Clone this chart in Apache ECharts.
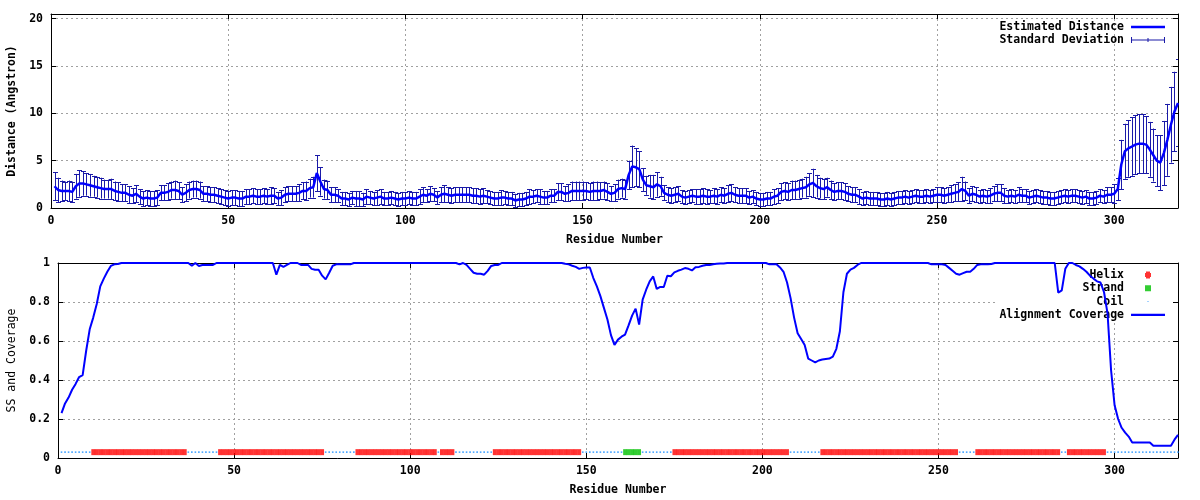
<!DOCTYPE html>
<html><head><meta charset="utf-8">
<script src="https://cdn.jsdelivr.net/npm/echarts@6/dist/echarts.min.js"></script>
<style>html,body{margin:0;padding:0;background:#fff}#c{width:1200px;height:500px}</style>
</head><body><div id="c"></div>
<script>
// ---------- DATA (residues 1..318) ----------
const distance = [
2.3,1.9,1.8,1.8,1.8,1.7,2.3,2.6,2.6,2.5,
2.4,2.3,2.2,2.1,2.0,2.0,2.0,1.8,1.7,1.6,
1.6,1.4,1.3,1.5,1.2,1.0,1.1,1.0,1.0,1.1,
1.6,1.6,1.7,1.9,1.9,1.8,1.4,1.6,1.9,2.0,
2.0,1.9,1.5,1.5,1.4,1.4,1.3,1.2,1.1,1.0,
1.1,1.1,1.0,1.0,1.2,1.2,1.3,1.2,1.2,1.3,
1.2,1.3,1.3,1.0,1.1,1.4,1.5,1.5,1.5,1.6,
1.8,1.8,2.1,2.2,3.7,2.8,2.0,1.9,1.4,1.4,
1.3,1.0,1.0,0.9,1.1,1.0,1.0,0.9,1.2,1.1,
1.0,1.1,1.2,1.0,1.0,1.1,1.0,0.9,1.0,1.0,
1.1,1.0,1.0,1.2,1.4,1.3,1.5,1.4,1.1,1.4,
1.5,1.4,1.3,1.4,1.4,1.4,1.4,1.4,1.3,1.3,
1.2,1.3,1.2,1.1,1.0,1.0,1.1,1.1,1.0,1.0,
0.8,0.9,0.9,1.0,1.2,1.2,1.3,1.2,1.1,1.1,
1.3,1.3,1.7,1.7,1.5,1.6,1.8,1.8,1.8,1.8,
1.8,1.7,1.8,1.8,1.8,1.9,1.7,1.5,1.6,2.0,
2.1,2.0,3.5,4.4,4.3,4.1,3.0,2.4,2.3,2.2,
2.5,2.3,1.6,1.4,1.3,1.4,1.5,1.2,1.1,1.2,
1.3,1.2,1.2,1.3,1.2,1.2,1.3,1.2,1.4,1.3,
1.5,1.6,1.4,1.3,1.3,1.3,1.1,1.2,1.0,0.9,
0.9,1.0,1.0,1.2,1.3,1.7,1.8,1.7,1.9,1.9,
2.0,2.1,2.2,2.5,2.65,2.3,2.1,2.0,2.2,1.9,
1.7,1.8,1.8,1.7,1.5,1.4,1.4,1.2,1.0,1.1,
1.0,1.0,1.0,0.9,0.9,1.0,0.9,1.0,1.1,1.1,
1.2,1.1,1.2,1.3,1.2,1.2,1.3,1.2,1.3,1.4,
1.4,1.3,1.4,1.5,1.6,1.7,2.0,1.8,1.3,1.5,
1.4,1.2,1.3,1.2,1.3,1.5,1.6,1.6,1.3,1.2,
1.3,1.2,1.4,1.3,1.3,1.1,1.2,1.3,1.2,1.1,
1.1,1.0,1.0,1.1,1.2,1.3,1.2,1.3,1.3,1.2,
1.1,1.2,1.0,1.0,1.1,1.3,1.2,1.4,1.4,1.5,
2.0,4.6,6.0,6.3,6.5,6.7,6.8,6.8,6.7,6.2,
5.6,5.0,4.8,5.8,7.2,8.8,10.2,11.1
];
const stdDev = [
1.5,1.3,1.1,1.0,1.1,1.1,1.3,1.4,1.3,1.2,
1.2,1.1,1.1,1.1,1.0,1.0,1.1,1.0,1.0,0.9,
0.9,0.9,0.8,0.9,0.8,0.8,0.8,0.8,0.8,0.8,
0.8,0.8,0.9,0.9,1.0,0.9,0.8,0.9,0.9,0.9,
0.9,0.9,0.8,0.8,0.8,0.8,0.8,0.8,0.8,0.8,
0.8,0.8,0.8,0.8,0.8,0.8,0.8,0.8,0.8,0.8,
0.8,0.9,0.8,0.7,0.8,0.8,0.8,0.8,0.8,0.9,
0.9,1.0,1.0,1.1,1.9,1.5,1.0,1.0,0.8,0.8,
0.7,0.7,0.7,0.7,0.7,0.8,0.8,0.7,0.8,0.7,
0.7,0.8,0.8,0.7,0.7,0.7,0.7,0.7,0.7,0.7,
0.7,0.7,0.7,0.8,0.8,0.7,0.8,0.7,0.7,0.8,
0.9,0.8,0.8,0.8,0.8,0.8,0.8,0.8,0.8,0.8,
0.8,0.8,0.7,0.7,0.7,0.7,0.8,0.7,0.7,0.7,
0.7,0.7,0.7,0.7,0.8,0.7,0.7,0.8,0.7,0.7,
0.7,0.7,0.9,0.9,0.8,0.9,1.0,1.0,1.0,1.0,
0.9,0.9,1.0,1.0,0.9,0.9,0.9,0.8,0.9,1.0,
1.0,1.0,1.5,2.2,2.0,1.9,1.2,1.0,1.2,1.3,
1.3,1.0,0.8,0.8,0.8,0.8,0.8,0.7,0.7,0.7,
0.7,0.8,0.8,0.8,0.8,0.7,0.8,0.8,0.8,0.8,
0.9,0.9,0.8,0.8,0.8,0.8,0.7,0.7,0.7,0.7,
0.7,0.7,0.7,0.8,0.8,0.9,0.9,0.9,1.0,1.0,
1.0,1.0,1.1,1.2,1.5,1.2,1.1,1.1,1.0,1.0,
0.9,0.9,0.9,0.9,0.8,0.8,0.8,0.8,0.7,0.7,
0.7,0.7,0.7,0.7,0.7,0.7,0.7,0.7,0.7,0.7,
0.7,0.7,0.7,0.7,0.7,0.7,0.7,0.7,0.7,0.8,
0.8,0.8,0.8,0.9,0.9,1.0,1.3,1.0,0.8,0.8,
0.8,0.7,0.7,0.7,0.8,0.8,0.9,0.9,0.8,0.7,
0.7,0.7,0.8,0.7,0.7,0.7,0.7,0.7,0.7,0.7,
0.7,0.7,0.7,0.7,0.7,0.7,0.7,0.7,0.7,0.7,
0.7,0.7,0.7,0.7,0.7,0.7,0.7,0.8,0.8,1.0,
1.2,2.6,2.9,3.0,3.1,3.1,3.1,3.1,3.0,2.9,
2.8,2.7,2.9,3.4,3.8,4.0,4.2,4.6
];
const coverage = [
0.23,0.28,0.31,0.35,0.38,0.415,0.425,0.55,0.66,0.72,
0.79,0.88,0.92,0.955,0.985,0.993,0.995,1,1,1,
1,1,1,1,1,1,1,1,1,1,
1,1,1,1,1,1,1,0.986,1,0.985,
0.99,0.99,0.99,0.99,1,1,1,1,1,1,
1,1,1,1,1,1,1,1,1,1,
1,0.94,0.99,0.98,0.99,1,1,1,0.99,0.99,
0.99,0.97,0.965,0.965,0.935,0.916,0.95,0.986,0.993,0.993,
0.993,0.993,0.993,1,1,1,1,1,1,1,
1,1,1,1,1,1,1,1,1,1,
1,1,1,1,1,1,1,1,1,1,
1,1,1,0.993,1,0.99,0.97,0.95,0.945,0.945,
0.94,0.96,0.985,0.99,0.99,1,1,1,1,1,
1,1,1,1,1,1,1,1,1,1,
1,1,1,0.996,0.993,0.986,0.98,0.97,0.975,0.977,
0.977,0.923,0.88,0.83,0.77,0.71,0.63,0.58,0.607,0.622,
0.633,0.68,0.73,0.766,0.684,0.812,0.863,0.906,0.931,0.867,
0.877,0.877,0.935,0.932,0.952,0.96,0.966,0.974,0.97,0.962,
0.978,0.98,0.986,0.99,0.99,0.994,0.996,0.998,0.998,1,
1,1,1,1,1,1,1,1,1,1,
1,0.993,0.993,0.993,0.977,0.955,0.9,0.82,0.72,0.64,
0.61,0.58,0.51,0.5,0.49,0.5,0.505,0.508,0.51,0.52,
0.56,0.65,0.85,0.945,0.966,0.975,0.99,1,1,1,
1,1,1,1,1,1,1,1,1,1,
1,1,1,1,1,1,1,0.993,0.993,0.993,
0.993,0.99,0.975,0.96,0.945,0.94,0.948,0.955,0.955,0.97,
0.99,0.993,0.993,0.993,0.995,1,1,1,1,1,
1,1,1,1,1,1,1,1,1,1,
1,1,1,0.848,0.86,0.97,1,1,0.99,0.983,
0.97,0.955,0.935,0.92,0.906,0.9,0.85,0.74,0.45,0.27,
0.2,0.155,0.13,0.11,0.08,0.08,0.08,0.08,0.08,0.08,
0.063,0.063,0.063,0.063,0.063,0.063,0.094,0.119
];
const helixSegments = [[10,36],[46,75],[85,107],[109,112],[124,148],[175,207],[217,255],[261,284],[287,297]];
const strandSegments = [[161,165]];
const ssLevel = 0.03;
const residueMax = 318;
const xTickStep = 50;
const distTicks = [0, 5, 10, 15, 20];
const covTicks = [0, 0.2, 0.4, 0.6, 0.8, 1];

// ---------- build ----------
const FONT = 'DejaVu Sans Mono';
const inSeg = (r, segs) => segs.some(s => r >= s[0] && r <= s[1]);
const distData = [], errData = [], covData = [], helixData = [], strandData = [], coilData = [];
for (let i = 0; i < residueMax; i++) {
  const r = i + 1;
  distData.push([r, distance[i]]);
  errData.push([r, distance[i] - stdDev[i], distance[i] + stdDev[i]]);
  covData.push([r, coverage[i]]);
  if (inSeg(r, helixSegments)) helixData.push([r, ssLevel]);
  else if (inSeg(r, strandSegments)) strandData.push([r, ssLevel]);
  else coilData.push([r, ssLevel]);
}

const labelStyle = {fontFamily: FONT, fontWeight: 'bold', fontSize: 11.5, color: '#000'};
const gridLine = {show: true, lineStyle: {color: '#a0a0a0', width: 1, type: [2, 3]}};
function xAx(gi, pos, main) {
  return {
    type: 'value', gridIndex: gi, position: pos, min: 0, max: residueMax, interval: xTickStep,
    axisLine: {show: true, onZero: false, lineStyle: {color: '#000', width: 1}},
    axisTick: {show: true, inside: true, length: 5, lineStyle: {color: '#000'}},
    axisLabel: main ? Object.assign({margin: 7, formatter: v => (v % xTickStep === 0 ? String(v) : '')}, labelStyle) : {show: false},
    splitLine: main ? gridLine : {show: false},
    name: main ? 'Residue Number' : '', nameLocation: 'middle', nameGap: 26,
    nameTextStyle: labelStyle
  };
}
function yAx(gi, pos, main, min, max, step, ticks, name, gap, nameStyle) {
  return {
    type: 'value', gridIndex: gi, position: pos, min: min, max: max, interval: step,
    axisLine: {show: true, onZero: false, lineStyle: {color: '#000', width: 1}},
    axisTick: {show: true, inside: true, length: 5, lineStyle: {color: '#000'}},
    axisLabel: main ? Object.assign({margin: 8, formatter: v => (ticks.some(t => Math.abs(t - v) < 1e-9) ? String(+v.toFixed(2)) : '')}, labelStyle) : {show: false},
    splitLine: main ? gridLine : {show: false},
    name: main ? name : '', nameLocation: 'middle', nameRotate: 90, nameGap: gap,
    nameTextStyle: nameStyle
  };
}

const EXT = 'M0,0L0.01,0L0.01,0.01Z M34,9L34.01,9L34.01,9.01Z ';
const ICON_LINE = 'path://' + EXT + 'M0,3.3L34,3.3L34,5.7L0,5.7Z';
const ICON_ERR = 'path://' + EXT + 'M0,4L34,4L34,5L0,5Z M0,1.5L1,1.5L1,7.5L0,7.5Z M16.5,2.5L17.5,2.5L17.5,6.5L16.5,6.5Z M33,1.5L34,1.5L34,7.5L33,7.5Z';
const ICON_HELIX = 'path://' + EXT + 'M15,1L19,1L19,8L15,8Z M14,2.5L20,2.5L20,6.5L14,6.5Z';
const ICON_STRAND = 'path://' + EXT + 'M14,1.5L20,1.5L20,7.5L14,7.5Z';
const ICON_COIL = 'path://' + EXT + 'M16.5,4L17.5,4L17.5,5L16.5,5Z';

const legendBase = {
  orient: 'vertical', align: 'right', right: 30, itemWidth: 34, itemHeight: 9, itemGap: 1,
  selectedMode: false, itemStyle: {borderWidth: 0},
  textStyle: Object.assign({lineHeight: 12, padding: [0, 2, 0, 0]}, labelStyle)
};

const ERR_COLOR = '#1a1aa8';
const chart = echarts.init(document.getElementById('c'), null, {renderer: 'canvas'});
chart.setOption({
  animation: false,
  backgroundColor: '#fff',
  grid: [
    {left: 51, top: 14, width: 1127, height: 194, containLabel: false, outerBoundsMode: 'none'},
    {left: 58, top: 263, width: 1120, height: 195, containLabel: false, outerBoundsMode: 'none'}
  ],
  xAxis: [xAx(0, 'bottom', true), xAx(0, 'top', false), xAx(1, 'bottom', true), xAx(1, 'top', false)],
  yAxis: [
    yAx(0, 'left', true, 0, 20.5, 5, distTicks, 'Distance (Angstron)', 33, labelStyle),
    yAx(0, 'right', false, 0, 20.5, 5, distTicks),
    yAx(1, 'left', true, 0, 1, 0.2, covTicks, 'SS and Coverage', 39, {fontFamily: FONT, fontWeight: 'normal', fontSize: 11.5, color: '#000'}),
    yAx(1, 'right', false, 0, 1, 0.2, covTicks)
  ],
  legend: [
    Object.assign({}, legendBase, {top: 16, data: [
      {name: 'Estimated Distance', icon: ICON_LINE},
      {name: 'Standard Deviation', icon: ICON_ERR}
    ]}),
    Object.assign({}, legendBase, {top: 264, itemGap: 1.3, data: [
      {name: 'Helix', icon: ICON_HELIX},
      {name: 'Strand', icon: ICON_STRAND},
      {name: 'Coil', icon: ICON_COIL},
      {name: 'Alignment Coverage', icon: ICON_LINE}
    ]})
  ],
  graphic: [
    {type: 'rect', z: 1, silent: true, shape: {x: 998, y: 264, width: 174, height: 56}, style: {fill: '#fff'}}
  ],
  series: [
    {
      name: 'Standard Deviation', type: 'custom', xAxisIndex: 0, yAxisIndex: 0, clip: true, z: 2,
      itemStyle: {color: ERR_COLOR},
      encode: {x: 0, y: [1, 2]},
      data: errData,
      renderItem: function (params, api) {
        const x = api.value(0), lo = api.value(1), hi = api.value(2);
        const a = api.coord([x, lo]), b = api.coord([x, hi]);
        const px = Math.round(a[0]) + 0.5, hw = 2.5;
        const st = {stroke: ERR_COLOR, lineWidth: 1};
        return {type: 'group', children: [
          {type: 'line', shape: {x1: px, y1: a[1], x2: px, y2: b[1]}, style: st},
          {type: 'line', shape: {x1: px - hw, y1: Math.round(a[1]) + 0.5, x2: px + hw, y2: Math.round(a[1]) + 0.5}, style: st},
          {type: 'line', shape: {x1: px - hw, y1: Math.round(b[1]) + 0.5, x2: px + hw, y2: Math.round(b[1]) + 0.5}, style: st}
        ]};
      }
    },
    {
      name: 'Estimated Distance', type: 'line', xAxisIndex: 0, yAxisIndex: 0, z: 3,
      data: distData, showSymbol: false, symbol: 'none',
      itemStyle: {color: '#0000ff'}, lineStyle: {color: '#0000ff', width: 2.5}
    },
    {
      name: 'Helix', type: 'scatter', xAxisIndex: 2, yAxisIndex: 2, z: 3,
      data: helixData, symbol: 'rect', symbolSize: [3.8, 6], itemStyle: {color: '#ff0000'}
    },
    {
      name: 'Strand', type: 'scatter', xAxisIndex: 2, yAxisIndex: 2, z: 3,
      data: strandData, symbol: 'rect', symbolSize: [3.8, 6], itemStyle: {color: '#00c000'}
    },
    {
      name: 'Coil', type: 'scatter', xAxisIndex: 2, yAxisIndex: 2, z: 3,
      data: coilData, symbol: 'rect', symbolSize: [1.6, 1.6], itemStyle: {color: '#1e90ff'}
    },
    {
      name: 'Alignment Coverage', type: 'line', xAxisIndex: 2, yAxisIndex: 2, z: 4,
      data: covData, showSymbol: false, symbol: 'none',
      itemStyle: {color: '#0000ff'}, lineStyle: {color: '#0000ff', width: 2}
    }
  ]
});
</script>
</body></html>
